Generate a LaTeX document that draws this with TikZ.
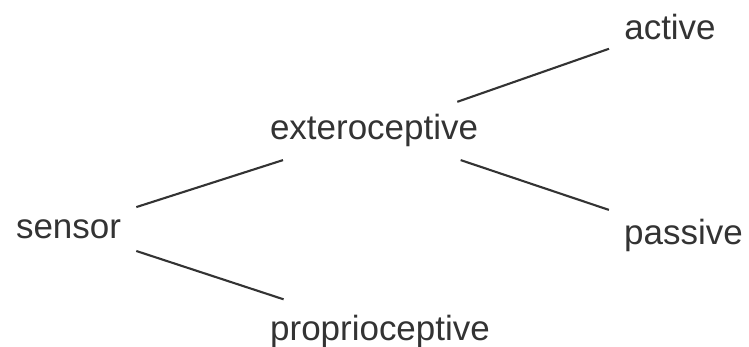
\documentclass[tikz,border=0pt]{standalone}
\usepackage{fontspec}
\setmainfont{Liberation Sans}
\usepackage{tikz}
\usepackage{xcolor}

\definecolor{inkgray}{HTML}{333333}

\begin{document}
\begin{tikzpicture}[x=0.02cm,y=-0.02cm,
  term/.style={anchor=base,inner sep=0.3cm,text=inkgray,font=\fontsize{19.9}{24}\selectfont},
  branch/.style={draw=inkgray,line width=1.2pt}]
\useasboundingbox (0,0) rectangle (749,347);
\node[term] (sensor) at (68.5,238) {sensor};
\node[term,inner sep=0.25cm] (extero) at (374,140) {exteroceptive};
\node[term] (proprio) at (380,340) {proprioceptive};
\node[term] (active) at (670,40) {active};
\node[term] (passive) at (683.5,244) {passive};
\draw[branch] (sensor) -- (extero);
\draw[branch] (sensor) -- (proprio);
\draw[branch] (extero) -- (active);
\draw[branch] (extero) -- (passive);
\end{tikzpicture}
\end{document}
